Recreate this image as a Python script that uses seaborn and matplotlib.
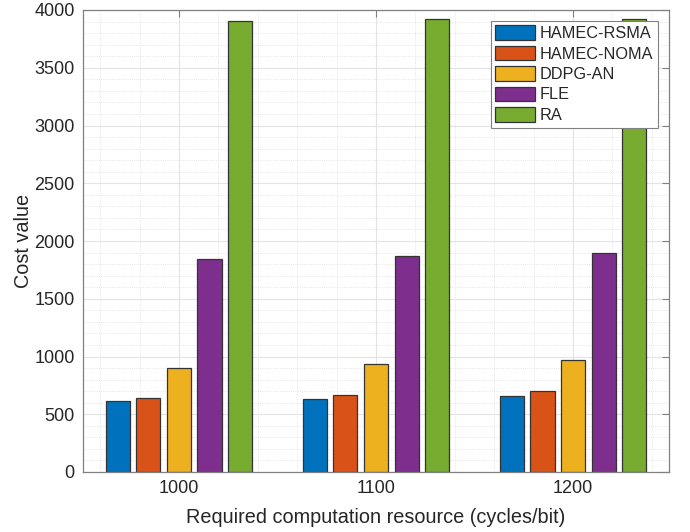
import matplotlib
matplotlib.use("Agg")
import matplotlib.pyplot as plt
from matplotlib.ticker import MultipleLocator
from matplotlib.patches import Patch
import seaborn as sns
import pandas as pd

categories = ["1000", "1100", "1200"]
methods = ["HAMEC-RSMA", "HAMEC-NOMA", "DDPG-AN", "FLE", "RA"]
hamec_rsma = [612, 635, 661]
hamec_noma = [644, 670, 698]
ddpg_an = [902, 938, 972]
fle = [1840, 1869, 1892]
ra = [3905, 3922, 3925]
colors = ["#0072BD", "#D95319", "#EDB120", "#7E2F8E", "#77AC30"]

series = [hamec_rsma, hamec_noma, ddpg_an, fle, ra]
rows = []
for m, vals in zip(methods, series):
    for c, v in zip(categories, vals):
        rows.append({"x": c, "method": m, "value": v})
df = pd.DataFrame(rows)

sns.set_style("white")
plt.rcParams["font.family"] = ["Liberation Sans", "DejaVu Sans"]

fig = plt.figure(figsize=(6.9, 5.32), dpi=100)
ax = fig.add_axes([83/690, 1-472/532, (669-83)/690, (472-10)/532])

sns.barplot(data=df, x="x", y="value", hue="method", order=categories,
            hue_order=methods, palette=colors, width=0.777, gap=0.21,
            edgecolor="#333333", linewidth=0.9, ax=ax, errorbar=None,
            saturation=1, legend=False)

ax.set_xlim(-0.487, 2.487)
ax.set_ylim(0, 4000)
ax.yaxis.set_major_locator(MultipleLocator(500))
ax.yaxis.set_minor_locator(MultipleLocator(100))
ax.xaxis.set_minor_locator(MultipleLocator(0.2))
ax.set_axisbelow(True)
ax.grid(which="major", color="#e3e3e3", linewidth=0.8, linestyle="-")
ax.grid(which="minor", color="#dedede", linewidth=0.6, linestyle=":")

for s in ax.spines.values():
    s.set_visible(True)
    s.set_color("#808080")
    s.set_linewidth(0.9)

ax.tick_params(which="major", direction="in", length=5, width=0.8,
               color="#808080", top=True, right=True, labelsize=13,
               labelcolor="#262626", pad=6)
ax.tick_params(which="minor", length=0, top=True, right=True)

ax.set_xlabel("Required computation resource (cycles/bit)", fontsize=14.3,
              color="#262626", labelpad=8)
ax.set_ylabel("Cost value", fontsize=14.3, color="#262626", labelpad=1)

handles = [Patch(facecolor=c, edgecolor="#333333", linewidth=0.9) for c in colors]
leg = ax.legend(handles, methods, loc="upper right", fontsize=11.7,
                frameon=True, fancybox=False, framealpha=1,
                edgecolor="#808080", handlelength=2.45, handleheight=1.0,
                labelspacing=0.28, handletextpad=0.3, borderpad=0.3,
                borderaxespad=0.65)
leg.get_frame().set_linewidth(0.8)
for t in leg.get_texts():
    t.set_color("#262626")

fig.savefig("out.png", dpi=100)
